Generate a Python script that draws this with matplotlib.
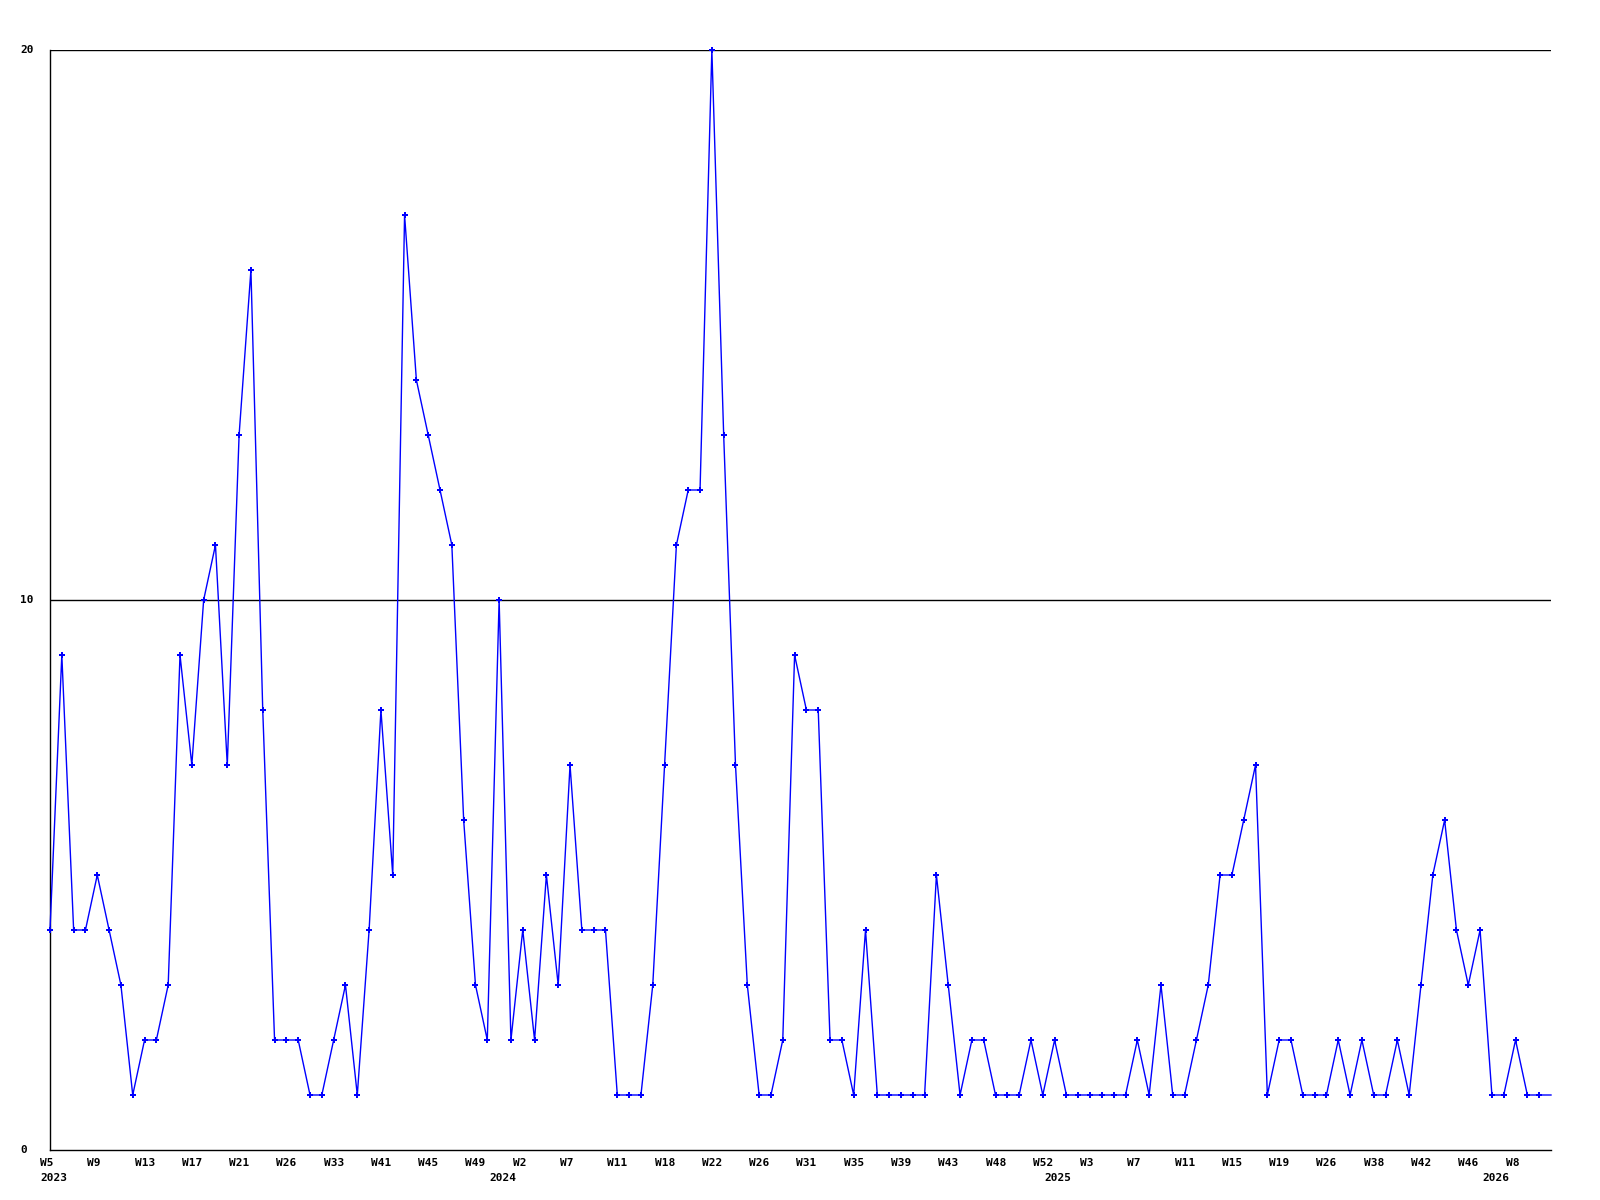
#!/usr/bin/env python3
# weekly counts line chart
import numpy as np
import matplotlib
matplotlib.use("Agg")
import matplotlib.pyplot as plt
from matplotlib import transforms

# weekly values (last entry = current partial week, drawn without marker)
counts = [
    4, 9, 4, 4, 5, 4, 3, 1, 2, 2,
    3, 9, 7, 10, 11, 7, 13, 16, 8, 2,
    2, 2, 1, 1, 2, 3, 1, 4, 8, 5,
    17, 14, 13, 12, 11, 6, 3, 2, 10, 2,
    4, 2, 5, 3, 7, 4, 4, 4, 1, 1,
    1, 3, 7, 11, 12, 12, 20, 13, 7, 3,
    1, 1, 2, 9, 8, 8, 2, 2, 1, 4,
    1, 1, 1, 1, 1, 5, 3, 1, 2, 2,
    1, 1, 1, 2, 1, 2, 1, 1, 1, 1,
    1, 1, 2, 1, 3, 1, 1, 2, 3, 5,
    5, 6, 7, 1, 2, 2, 1, 1, 1, 2,
    1, 2, 1, 1, 2, 1, 3, 5, 6, 4,
    3, 4, 1, 1, 2, 1, 1, 1,
]

# one label every 4th point
week_labels = ["W5", "W9", "W13", "W17", "W21", "W26", "W33", "W41", "W45", "W49",
               "W2", "W7", "W11", "W18", "W22", "W26", "W31", "W35", "W39", "W43",
               "W48", "W52", "W3", "W7", "W11", "W15", "W19", "W26", "W38", "W42",
               "W46", "W8"]
years = ["2023", "2024", "2025", "2026"]
year_start = [0, 38, 85, 122]   # index of first point in each year
y_ticks = [0, 10, 20]

BLUE = "#0000ff"
W, H = 1600, 1200
fig = plt.figure(figsize=(16, 12), dpi=100)
ax = fig.add_axes([50 / W, 50 / H, 1501 / W, 1100 / H])

x = np.arange(len(counts))
ax.plot(x, counts, color=BLUE, lw=1.0, marker="P", ms=4.5, mew=0,
        markevery=list(range(len(counts) - 1)), clip_on=False, zorder=3)

ax.set_xlim(0, len(counts) - 1)
ax.set_ylim(0, 20)
for s in ["top", "right"]:
    ax.spines[s].set_visible(False)
for s in ["left", "bottom"]:
    ax.spines[s].set_linewidth(1.0)
    ax.spines[s].set_color("black")
ax.set_xticks([])
ax.set_yticks([])
for v in y_ticks[1:]:
    ax.axhline(v, color="black", lw=1.0, zorder=1)

font = dict(family="DejaVu Sans Mono", weight="bold", size=8, color="black")

# y labels, left aligned near figure edge
ytr = transforms.blended_transform_factory(fig.transFigure, ax.transData)
for v in y_ticks:
    ax.text(20 / W, v, str(v), transform=ytr, ha="left", va="center",
            clip_on=False, **font)

# week / year labels, left edge ~10px before the point
xtr = ax.get_xaxis_transform()
wk_tr = transforms.offset_copy(xtr, fig=fig, x=-10, y=-13, units="dots")
yr_tr = transforms.offset_copy(xtr, fig=fig, x=-10, y=-28, units="dots")
for k, lab in enumerate(week_labels):
    ax.text(4 * k, 0, lab, transform=wk_tr, ha="left", va="center",
            clip_on=False, **font)
for idx, yr in zip(year_start, years):
    ax.text(idx, 0, yr, transform=yr_tr, ha="left", va="center",
            clip_on=False, **font)

fig.savefig("out.png", dpi=100, facecolor="white")
